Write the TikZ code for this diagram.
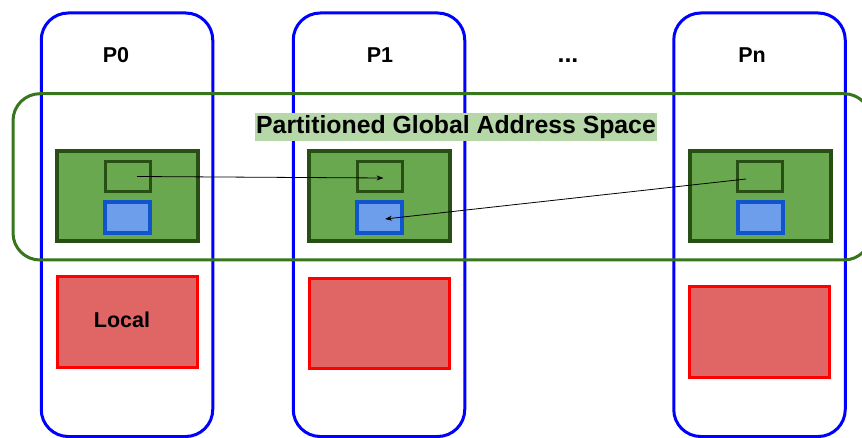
\documentclass[tikz,border=0pt]{standalone}
\usepackage{fontspec}
\setmainfont{Liberation Sans}
\usetikzlibrary{arrows.meta}
\definecolor{procblue}{HTML}{0000FF}
\definecolor{gasline}{HTML}{38761D}
\definecolor{gasfill}{HTML}{6AA84F}
\definecolor{gasdark}{HTML}{274E13}
\definecolor{slotblue}{HTML}{1155CC}
\definecolor{slotbluefill}{HTML}{6D9EEB}
\definecolor{localred}{HTML}{FF0000}
\definecolor{localfill}{HTML}{E06666}
\definecolor{titlebg}{HTML}{B6D7A8}
\begin{document}
\begin{tikzpicture}[x=1pt,y=-1pt,
  procbox/.style={draw=procblue,line width=3pt,rounded corners=27pt,minimum width=171.5,minimum height=423.5,inner sep=0pt},
  gasbox/.style={draw=gasline,line width=3pt,rounded corners=27pt},
  partbox/.style={draw=gasdark,fill=gasfill,line width=4pt,minimum width=141,minimum height=90,inner sep=0pt},
  slotbox/.style={draw=gasdark,fill=gasfill,line width=3pt,minimum width=45,minimum height=30,inner sep=0pt},
  bluebox/.style={draw=slotblue,fill=slotbluefill,line width=4pt,minimum width=45,minimum height=31,inner sep=0pt},
  localbox/.style={draw=localred,fill=localfill,line width=3pt,minimum width=140,minimum height=90,inner sep=0pt},
  lbl/.style={font=\bfseries\fontsize{21.5}{24}\selectfont,anchor=base,inner sep=0pt},
  ttl/.style={font=\bfseries\fontsize{24.8}{28}\selectfont,fill=titlebg,minimum width=402,minimum height=28,inner sep=0pt},
  link/.style={draw=black,line width=0.8pt,-{Stealth[length=7pt,width=5pt]}}
]
\useasboundingbox (0,0) rectangle (862,438);
\clip (0,0) rectangle (862,438);
% process columns
\node[procbox] (c0) at (127,224.75) {};
\node[procbox] (c1) at (379,224.75) {};
\node[procbox] (cn) at (759.5,224.75) {};
% labels
\node[lbl] (l0) at (116,63) {P0};
\node[lbl] (l1) at (380,63) {P1};
\node[lbl,font=\bfseries\fontsize{25}{28}\selectfont] (ldots) at (568,63) {...};
\node[lbl] (ln) at (752,63) {Pn};
% global address space
\draw[gasbox] (13,93.7) rectangle (871,260);
\node[ttl] (title) at (456,127) {Partitioned Global Address Space};
% partitions
\node[partbox] (g0) at (127.5,196) {};
\node[partbox] (g1) at (379.5,196) {};
\node[partbox] (gn) at (760,196.5) {};
\node[slotbox] (s0) at (128,176.5) {};
\node[slotbox] (s1) at (379.5,176.5) {};
\node[slotbox] (sn) at (759.5,176.5) {};
\node[bluebox] (b0) at (127.5,217.5) {};
\node[bluebox] (b1) at (379.5,217.5) {};
\node[bluebox] (bn) at (760,217.5) {};
% local memory
\node[localbox] (r0) at (127,322) {};
\node[localbox] (r1) at (379.5,323.5) {};
\node[localbox] (rn) at (759.5,332) {};
\node[lbl] (loc) at (122,327) {Local};
% links
\coordinate (a0) at ([xshift=9pt]s0.center);
\coordinate (a1) at ([xshift=4pt,yshift=-1.5pt]s1.center);
\coordinate (an) at ([xshift=-13.5pt,yshift=-2.5pt]sn.center);
\coordinate (ab) at ([xshift=5.5pt,yshift=-1.5pt]b1.center);
\draw[link] (a0) -- (a1);
\draw[link] (an) -- (ab);
\end{tikzpicture}
\end{document}
